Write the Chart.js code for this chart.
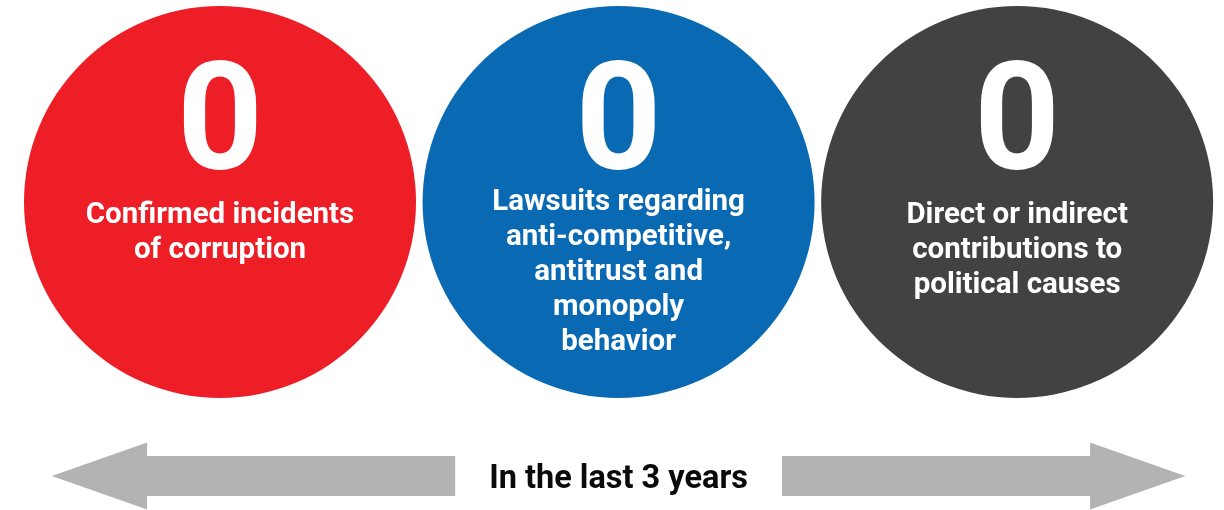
<!DOCTYPE html>
<html>
<head>
<meta charset="utf-8">
<script src="https://cdn.jsdelivr.net/npm/chart.js@4.4.1/dist/chart.umd.min.js"></script>
<style>
    html, body { margin: 0; padding: 0; background: #ffffff; }
    #wrap { width: 1224px; height: 510px; }
</style>
</head>
<body>
<div id="wrap"><canvas id="kpiChart" width="1224" height="510"></canvas></div>
<script>
// three counters shown as circles, all zero over the period
const categories = [
    ['Confirmed incidents', 'of corruption'],
    ['Lawsuits regarding', 'anti-competitive,', 'antitrust and', 'monopoly', 'behavior'],
    ['Direct or indirect', 'contributions to', 'political causes']
];
const counts = [0, 0, 0];
const circleColors = ['#ED1E26', '#0969B2', '#424242'];
const periodLabel = 'In the last 3 years';

// arrow extents along x, in category units (circle 0 .. circle 2)
const leftArrow = { tip: -0.422, head: -0.183, tail: 0.590 };
const rightArrow = { tail: 1.410, head: 2.183, tip: 2.422 };

const FONT = 'Roboto, "Liberation Sans", sans-serif';

const circleLabels = {
    id: 'circleLabels',
    afterDatasetsDraw(chart) {
        const ctx = chart.ctx;
        const meta = chart.getDatasetMeta(0);
        ctx.save();
        ctx.fillStyle = '#ffffff';
        ctx.textAlign = 'center';
        ctx.textBaseline = 'alphabetic';
        meta.data.forEach((pt, i) => {
            const cx = pt.x, cy = pt.y;
            ctx.font = 'bold 150px ' + FONT;
            ctx.fillText(String(counts[i]), cx, cy - 33);

            const lines = categories[i];
            ctx.font = 'bold 29.5px ' + FONT;
            const start = cy + 21 - Math.max(0, lines.length - 3) * 6.5;
            lines.forEach((l, j) => ctx.fillText(l, cx, start + j * 35));
        });
        ctx.restore();
    }
};

const arrows = {
    id: 'arrows',
    beforeDatasetsDraw(chart) {
        const ctx = chart.ctx;
        const xs = chart.scales.x, ys = chart.scales.y;
        const px = v => xs.getPixelForValue(v);
        const midY = ys.getPixelForValue(0);
        const shaftH = 20, headH = 33.5;
        ctx.save();
        ctx.fillStyle = '#B3B3B3';

        ctx.beginPath();
        ctx.moveTo(px(leftArrow.tip), midY);
        ctx.lineTo(px(leftArrow.head), midY - headH);
        ctx.lineTo(px(leftArrow.head), midY - shaftH);
        ctx.lineTo(px(leftArrow.tail), midY - shaftH);
        ctx.lineTo(px(leftArrow.tail), midY + shaftH);
        ctx.lineTo(px(leftArrow.head), midY + shaftH);
        ctx.lineTo(px(leftArrow.head), midY + headH);
        ctx.closePath();
        ctx.fill();

        ctx.beginPath();
        ctx.moveTo(px(rightArrow.tip), midY);
        ctx.lineTo(px(rightArrow.head), midY - headH);
        ctx.lineTo(px(rightArrow.head), midY - shaftH);
        ctx.lineTo(px(rightArrow.tail), midY - shaftH);
        ctx.lineTo(px(rightArrow.tail), midY + shaftH);
        ctx.lineTo(px(rightArrow.head), midY + shaftH);
        ctx.lineTo(px(rightArrow.head), midY + headH);
        ctx.closePath();
        ctx.fill();

        ctx.fillStyle = '#0a0a0a';
        ctx.font = 'bold 32.5px ' + FONT;
        ctx.textAlign = 'center';
        ctx.textBaseline = 'alphabetic';
        ctx.fillText(periodLabel, px(1), midY + 12);
        ctx.restore();
    }
};

new Chart(document.getElementById('kpiChart').getContext('2d'), {
    type: 'scatter',
    data: {
        datasets: [{
            data: counts.map((c, i) => ({ x: i, y: 1 })),
            backgroundColor: circleColors,
            borderWidth: 0,
            pointRadius: 196,
            pointHoverRadius: 196,
            clip: false
        }]
    },
    options: {
        responsive: false,
        animation: false,
        events: [],
        layout: { padding: 0, autoPadding: false },
        plugins: {
            legend: { display: false },
            tooltip: { enabled: false }
        },
        scales: {
            x: { type: 'linear', min: -0.552, max: 2.519, display: false },
            y: { type: 'linear', min: -0.124, max: 1.737, display: false }
        }
    },
    plugins: [arrows, circleLabels]
});
</script>
</body>
</html>
